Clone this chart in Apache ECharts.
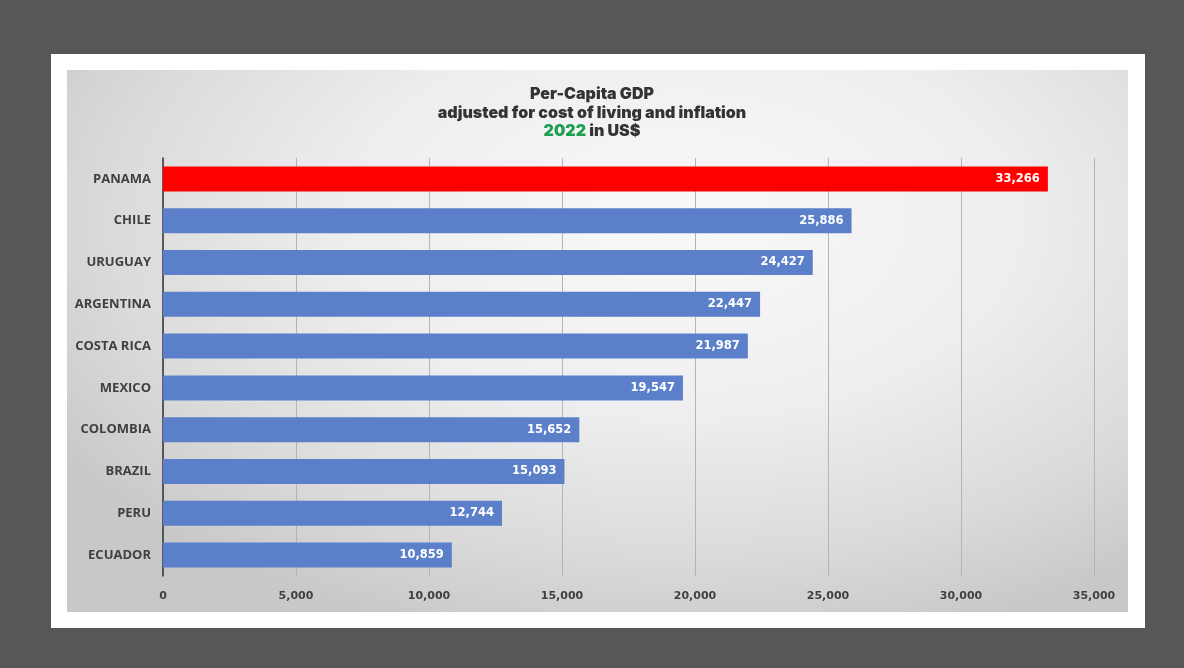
<!DOCTYPE html>
<html>
<head>
<meta charset="utf-8">
<script src="https://cdn.jsdelivr.net/npm/echarts@6/dist/echarts.min.js"></script>
<style>
  html, body { margin: 0; padding: 0; }
  body { width: 1184px; height: 668px; background: #575757; position: relative; overflow: hidden; }
  #card { position: absolute; left: 51px; top: 54px; width: 1094px; height: 574px; background: #ffffff; }
  #panel { position: absolute; left: 67px; top: 70px; width: 1061px; height: 542px;
    background: radial-gradient(ellipse 70% 80% at 58% 28%, #f9f9fa 0%, #eeeef0 45%, #dadada 78%, #c8c8c8 100%); }
  #chart { position: absolute; left: 0; top: 0; width: 1184px; height: 668px; }
</style>
</head>
<body>
<div id="card"></div>
<div id="panel"></div>
<div id="chart"></div>
<script>
const categories = ['PANAMA', 'CHILE', 'URUGUAY', 'ARGENTINA', 'COSTA RICA', 'MEXICO', 'COLOMBIA', 'BRAZIL', 'PERU', 'ECUADOR'];
const values = [33266, 25886, 24427, 22447, 21987, 19547, 15652, 15093, 12744, 10859];
const highlight = 'PANAMA';
const titleLines = ['Per-Capita GDP', 'adjusted for cost of living and inflation'];
const titleYear = '2022';
const titleUnit = ' in US$';

const chart = echarts.init(document.getElementById('chart'), null, { renderer: 'canvas' });
const fmt = v => v.toLocaleString('en-US');

chart.setOption({
  backgroundColor: 'transparent',
  animation: false,
  title: {
    text: titleLines.join('\n') + '\n{g|' + titleYear + '}{d|' + titleUnit + '}',
    left: 'center',
    top: 80,
    textStyle: {
      fontFamily: 'Inter', fontWeight: 900, fontSize: 16, color: '#333333', lineHeight: 18.5,
      rich: {
        g: { fontFamily: 'Inter', fontWeight: 900, fontSize: 16, color: '#1e9e4f', lineHeight: 18.5 },
        d: { fontFamily: 'Inter', fontWeight: 900, fontSize: 16, color: '#333333', lineHeight: 18.5 }
      }
    }
  },
  grid: { left: 163, right: 90, top: 158, bottom: 92, containLabel: false },
  xAxis: {
    type: 'value', min: 0, max: 35000, interval: 5000,
    axisLine: { show: false },
    axisTick: { show: false },
    axisLabel: { formatter: fmt, color: '#404040', fontFamily: 'DejaVu Sans', fontWeight: 'bold', fontSize: 11, margin: 15 },
    splitLine: { show: true, lineStyle: { color: '#b4b4b4', width: 1 } }
  },
  yAxis: {
    type: 'category', data: categories, inverse: true,
    axisLine: { show: true, lineStyle: { color: '#333333', width: 1.5 } },
    axisTick: { show: false },
    axisLabel: { color: '#404040', fontFamily: 'Open Sans', fontWeight: 'bold', fontSize: 13, margin: 12 }
  },
  series: [{
    type: 'bar',
    data: values.map((v, i) => ({ value: v, itemStyle: { color: categories[i] === highlight ? '#ff0000' : '#5b80c9' } })),
    barWidth: 25,
    label: {
      show: true, position: 'insideRight', distance: 8, formatter: p => fmt(p.value),
      color: '#ffffff', fontFamily: 'DejaVu Sans', fontWeight: 'bold', fontSize: 11.5
    }
  }]
});
</script>
</body>
</html>
